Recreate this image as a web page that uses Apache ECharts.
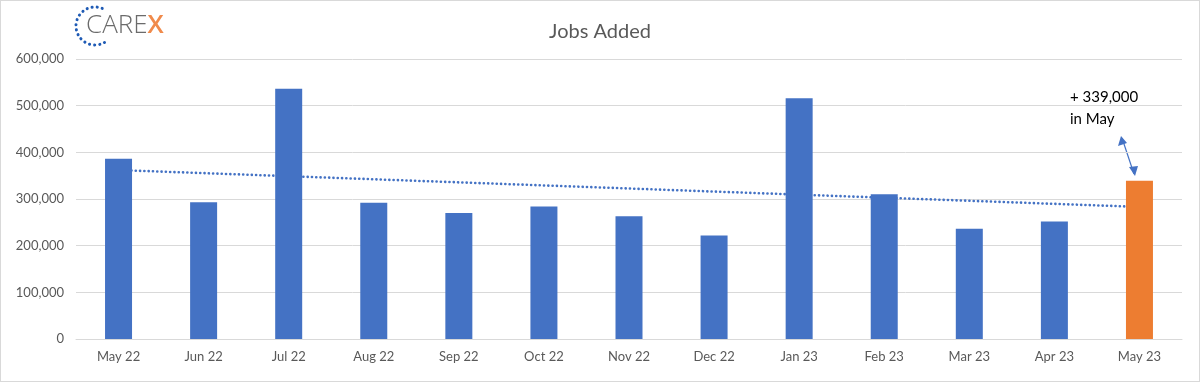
<!DOCTYPE html>
<html><head><meta charset="utf-8">
<script src="https://cdn.jsdelivr.net/npm/echarts@6/dist/echarts.min.js"></script>
<style>html,body{margin:0;padding:0;background:#fff}#c{width:1200px;height:382px;box-sizing:border-box;border:1px solid #d9d9d9}</style>
</head><body><div id="c"></div>
<script>
const categories = ['May 22','Jun 22','Jul 22','Aug 22','Sep 22','Oct 22','Nov 22','Dec 22','Jan 23','Feb 23','Mar 23','Apr 23','May 23'];
const jobsAdded = [386000, 293000, 536000, 292000, 270000, 284000, 263000, 222000, 516000, 310000, 236000, 252000, 339000];
const trendStart = 362000;
const trendEnd = 283000;
const yTicks = [0, 100000, 200000, 300000, 400000, 500000, 600000];
const highlightIndex = 12;

const font = 'Lato, "Open Sans", sans-serif';
const chart = echarts.init(document.getElementById('c'));
const barData = jobsAdded.map((v, i) => ({
  value: v,
  itemStyle: { color: i === highlightIndex ? '#ED7D31' : '#4472C4' }
}));
const trendData = categories.map((c, i) => i === 0 ? trendStart : (i === categories.length - 1 ? trendEnd : null));
const fmt = v => v === 0 ? '0' : v.toLocaleString('en-US');

chart.setOption({
  animation: false,
  title: {
    text: 'Jobs Added', left: 'center', top: 16,
    textStyle: { fontFamily: font, fontSize: 20, fontWeight: 'normal', color: '#595959' }
  },
  grid: { left: 75, right: 17, top: 58, bottom: 42 },
  xAxis: {
    type: 'category', data: categories,
    axisTick: { show: false },
    axisLine: { lineStyle: { color: '#d9d9d9' } },
    axisLabel: { color: '#595959', fontFamily: font, fontSize: 13, margin: 11 }
  },
  yAxis: {
    type: 'value', min: yTicks[0], max: yTicks[yTicks.length - 1], interval: 100000,
    axisLabel: { color: '#595959', fontFamily: font, fontSize: 13, margin: 12, formatter: fmt },
    splitLine: { lineStyle: { color: '#d9d9d9' } },
    axisLine: { show: false }, axisTick: { show: false }
  },
  series: [
    {
      type: 'line', data: trendData, connectNulls: true, symbol: 'none', z: 1, silent: true,
      lineStyle: { color: '#4472C4', type: [0.1, 4.2], width: 2.6, cap: 'round' }
    },
    { type: 'bar', data: barData, barWidth: 27, z: 3 }
  ],
  graphic: [
    { type: 'arc', shape: { cx: 94, cy: 25, r: 19, startAngle: Math.PI / 3, endAngle: 5 * Math.PI / 3, clockwise: true },
      style: { stroke: '#1F5BB5', fill: null, lineWidth: 3, lineDash: [0.1, 5], lineCap: 'round' } },
    { type: 'text', left: 85, top: 12,
      style: { text: '{a|CARE}{b|X}', rich: {
        a: { fontFamily: '"Open Sans", sans-serif', fontSize: 26, fontWeight: 300, fill: '#6b6b6b', color: '#6b6b6b' },
        b: { fontFamily: '"Open Sans", sans-serif', fontSize: 26, fontWeight: 600, fill: '#F08A4B', color: '#F08A4B' }
      } } },
    { type: 'text', left: 1069, top: 89,
      style: { text: '+ 339,000', fontFamily: font, fontSize: 15, fill: '#000' } },
    { type: 'text', left: 1069, top: 111,
      style: { text: 'in May', fontFamily: font, fontSize: 15, fill: '#000' } },
    { type: 'line', shape: { x1: 1121, y1: 137, x2: 1133, y2: 173 }, style: { stroke: '#4472C4', lineWidth: 1.2 } },
    { type: 'polygon', shape: { points: [[1120, 135], [1117, 145], [1126, 142]] }, style: { fill: '#4472C4' } },
    { type: 'polygon', shape: { points: [[1134, 175], [1128, 166], [1137, 165]] }, style: { fill: '#4472C4' } }
  ]
});
</script></body></html>
